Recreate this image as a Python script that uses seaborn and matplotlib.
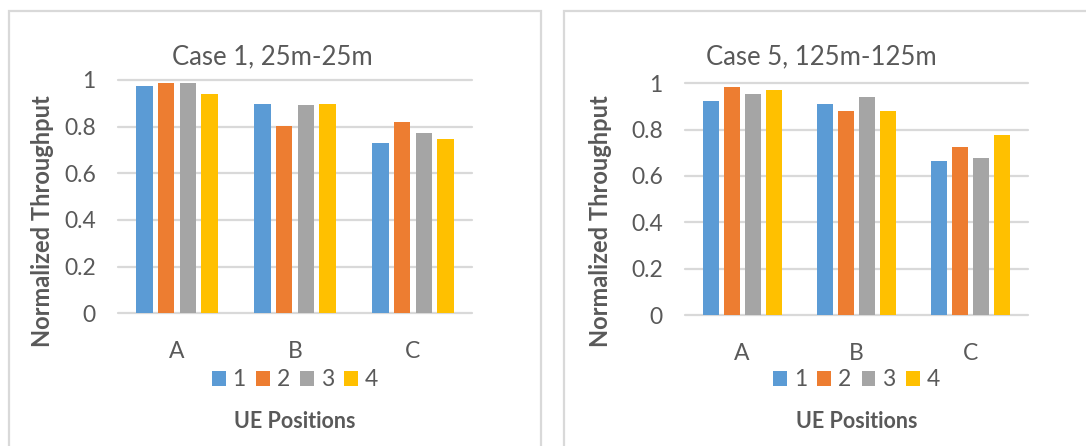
import matplotlib
matplotlib.use("Agg")
import matplotlib.pyplot as plt
from matplotlib.patches import Rectangle, Patch
import numpy as np
import pandas as pd
import seaborn as sns

# ---- data ----
positions = ["A", "B", "C"]
series = ["1", "2", "3", "4"]

# Case 1, 25m-25m: throughput per position for series 1..4
case1_A = [0.975, 0.986, 0.986, 0.938]
case1_B = [0.898, 0.804, 0.894, 0.898]
case1_C = [0.728, 0.820, 0.771, 0.748]

# Case 5, 125m-125m
case5_A = [0.922, 0.983, 0.955, 0.971]
case5_B = [0.911, 0.882, 0.939, 0.882]
case5_C = [0.666, 0.727, 0.677, 0.777]

titles = ["Case 1, 25m-25m", "Case 5, 125m-125m"]
y_ticks = [0, 0.2, 0.4, 0.6, 0.8, 1.0]
y_tick_labels = ["0", "0.2", "0.4", "0.6", "0.8", "1"]
x_label = "UE Positions"
y_label = "Normalized Throughput"

colors = ["#5B9BD5", "#ED7D31", "#A5A5A5", "#FFC000"]
text_color = "#595959"
grid_color = "#D9D9D9"

sns.set_style("white")
plt.rcParams["font.family"] = ["Lato", "DejaVu Sans"]


def to_frame(a, b, c):
    rows = []
    for pos, vals in zip(positions, [a, b, c]):
        for s, v in zip(series, vals):
            rows.append({"position": pos, "series": s, "value": v})
    return pd.DataFrame(rows)


frames = [to_frame(case1_A, case1_B, case1_C), to_frame(case5_A, case5_B, case5_C)]

W, H = 1086, 446
fig = plt.figure(figsize=(W / 100, H / 100), dpi=100)
fig.patch.set_facecolor("white")

# chart-area frames (pixel boxes: x0, x1, top)
frames_px = [(9, 541, 11), (564, 1120, 11)]
for x0, x1, top in frames_px:
    fig.add_artist(Rectangle((x0 / W, -0.2), (x1 - x0) / W, 0.2 + 1 - top / H,
                             transform=fig.transFigure, fill=False,
                             edgecolor=grid_color, lw=1.6, clip_on=False))

# plot areas in pixels: left, right, top, bottom
areas = [(118, 472, 80, 313.3), (685, 1028, 83.3, 315)]
title_x = [272, 821]
title_y = 56.5
ylabel_x = [43, 601]
ylabel_y = 221
legend_y = 380
xlabel_y = 421.5

for i, (df, (l, r, t, b)) in enumerate(zip(frames, areas)):
    ax = fig.add_axes([l / W, 1 - b / H, (r - l) / W, (b - t) / H])
    sns.barplot(data=df, x="position", y="value", hue="series",
                palette=colors, saturation=1, width=0.736, gap=0.24,
                linewidth=0, legend=False, ax=ax)
    ax.set_xlim(-0.5, 2.5)
    ax.set_ylim(0, 1)
    ax.set_yticks(y_ticks)
    ax.set_yticklabels(y_tick_labels)
    ax.grid(axis="y", color=grid_color, lw=1.6)
    for gl in ax.get_ygridlines():
        gl.set_clip_on(False)
    ax.set_axisbelow(True)
    for sp in ax.spines.values():
        sp.set_visible(False)
    ax.tick_params(axis="both", length=0, colors=text_color, labelsize=16.5)
    ax.tick_params(axis="y", pad=16)
    ax.tick_params(axis="x", pad=20)

    h = b - t
    wdt = r - l
    ax.set_xlabel(x_label, fontsize=15.5, fontweight="bold", color=text_color, va="center")
    ax.xaxis.set_label_coords(0.5, (b - xlabel_y) / h)
    ax.set_ylabel(y_label, fontsize=17, fontweight="bold", color=text_color, va="center")
    ax.yaxis.set_label_coords((ylabel_x[i] - l) / wdt, (b - ylabel_y) / h)

    ax.text((title_x[i] - l) / wdt, (b - title_y) / h, titles[i], transform=ax.transAxes,
            ha="center", va="center", fontsize=18.5, color=text_color)

    handles = [Patch(facecolor=c, edgecolor="none") for c in colors]
    leg = ax.legend(handles, series, ncol=4, loc="center",
                    bbox_to_anchor=(0.5, (b - legend_y) / h), frameon=False,
                    fontsize=16.5, handlelength=0.6, handleheight=0.6,
                    handletextpad=0.3, columnspacing=0.45, labelcolor=text_color)

fig.savefig("out.png", dpi=100, facecolor="white")
